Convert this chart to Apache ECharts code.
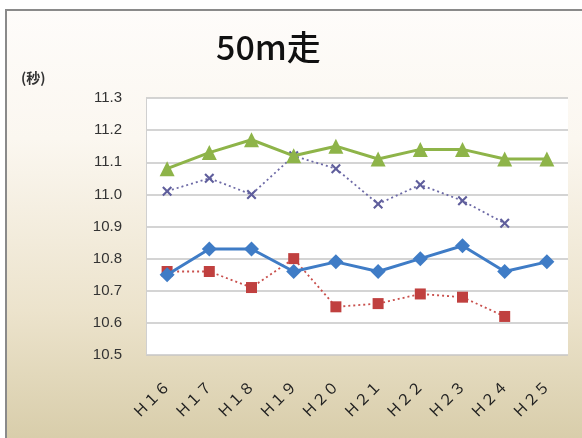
<!DOCTYPE html>
<html><head><meta charset="utf-8">
<script src="https://cdn.jsdelivr.net/npm/echarts@6/dist/echarts.min.js"></script>
<style>html,body{margin:0;padding:0;background:#fff}#c{width:582px;height:438px}</style>
</head><body><div id="c"></div>
<script>
const categories = ["Ｈ１６","Ｈ１７","Ｈ１８","Ｈ１９","Ｈ２０","Ｈ２１","Ｈ２２","Ｈ２３","Ｈ２４","Ｈ２５"];
const greenSeries = [11.08, 11.13, 11.17, 11.12, 11.15, 11.11, 11.14, 11.14, 11.11, 11.11];
const purpleSeries = [11.01, 11.05, 11.00, 11.12, 11.08, 10.97, 11.03, 10.98, 10.91, null];
const blueSeries = [10.75, 10.83, 10.83, 10.76, 10.79, 10.76, 10.80, 10.84, 10.76, 10.79];
const redSeries = [10.76, 10.76, 10.71, 10.80, 10.65, 10.66, 10.69, 10.68, 10.62, null];
const yTicks = { min: 10.5, max: 11.3, step: 0.1 };

const chart = echarts.init(document.getElementById('c'), null, { renderer: 'canvas' });
const xMark = 'path://M0,1.5 L1.5,0 L5,3.5 L8.5,0 L10,1.5 L6.5,5 L10,8.5 L8.5,10 L5,6.5 L1.5,10 L0,8.5 L3.5,5 Z';
chart.setOption({
  animation: false,
  graphic: [{
    type: 'rect', z: -10, silent: true,
    shape: { x: 6, y: 10, width: 590, height: 430 },
    style: {
      fill: new echarts.graphic.LinearGradient(0, 0, 0, 1, [
        { offset: 0, color: '#fefcfa' },
        { offset: 0.3, color: '#fbf7f0' },
        { offset: 0.7, color: '#ece3cc' },
        { offset: 1, color: '#d8cdaa' }
      ]),
      stroke: '#8a8a8a', lineWidth: 2
    }
  }, {
    type: 'text', left: 21, top: 71,
    style: { text: '(秒)', font: 'bold 14px "Noto Sans CJK JP"', fill: '#333' }
  }],
  title: {
    text: '50m走', left: 211, top: 25,
    textStyle: { fontFamily: '"Noto Sans CJK JP", "Noto Sans"', fontSize: 34, fontWeight: 500, color: '#111' }
  },
  grid: { left: 146, right: 14, top: 98, bottom: 83, show: true, backgroundColor: '#ffffff', borderWidth: 0 },
  xAxis: {
    type: 'category', data: categories, boundaryGap: true,
    axisLine: { show: false }, axisTick: { show: false },
    axisLabel: { rotate: 45, margin: 28, fontSize: 15, color: '#222', fontFamily: '"Noto Sans CJK JP"' }
  },
  yAxis: {
    type: 'value', min: yTicks.min, max: yTicks.max, interval: yTicks.step,
    axisLine: { show: true, lineStyle: { color: '#d0d0d0', width: 1 } }, axisTick: { show: false },
    splitLine: { lineStyle: { color: '#c6c6c6', width: 1.5 } },
    axisLabel: { margin: 24, fontSize: 15, color: '#333', fontFamily: 'Liberation Sans',
      formatter: v => v.toFixed(1) }
  },
  series: [
    { name: 'green', type: 'line', data: greenSeries, symbol: 'triangle', symbolSize: 15,
      lineStyle: { color: '#8eb449', width: 3 }, itemStyle: { color: '#8eb449' }, z: 3 },
    { name: 'purple', type: 'line', data: purpleSeries, symbol: xMark, symbolSize: 10,
      lineStyle: { color: '#6d6aa6', width: 1.8, type: [2, 3] }, itemStyle: { color: '#5f5e9c' }, z: 2 },
    { name: 'blue', type: 'line', data: blueSeries, symbol: 'diamond', symbolSize: 15,
      lineStyle: { color: '#3f7cc6', width: 3 }, itemStyle: { color: '#3f7cc6' }, z: 4 },
    { name: 'red', type: 'line', data: redSeries, symbol: 'rect', symbolSize: 11,
      lineStyle: { color: '#c9504d', width: 1.8, type: [2, 3] }, itemStyle: { color: '#c0403f' }, z: 2 }
  ]
});
</script></body></html>
